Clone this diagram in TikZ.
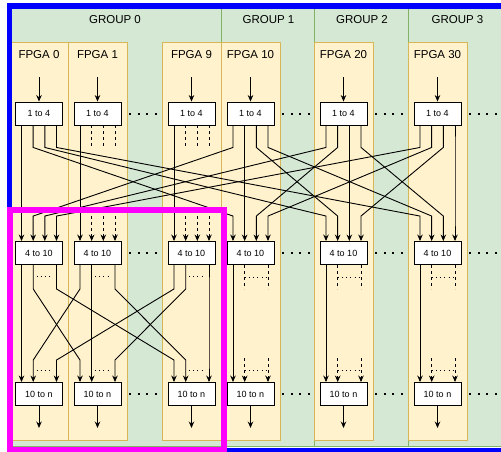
\documentclass[tikz,border=0pt]{standalone}
\usepackage{fontspec}
\setmainfont{Liberation Sans}
\usetikzlibrary{arrows.meta}
\definecolor{grpfill}{HTML}{D5E8D4}
\definecolor{grpline}{HTML}{82B366}
\definecolor{colfill}{HTML}{FFF2CC}
\definecolor{colline}{HTML}{D6B656}
\definecolor{outerframe}{RGB}{0,0,255}
\definecolor{innerframe}{RGB}{255,0,255}
\tikzset{
  blk/.style={draw,fill=white,minimum width=47pt,minimum height=23pt,inner sep=0pt,font=\fontsize{9}{10}\selectfont},
  lbl/.style={inner sep=0pt,font=\fontsize{11.5}{13}\selectfont},
  grp/.style={fill=grpfill,draw=grpline},
  col/.style={fill=colfill,draw=colline},
  stub/.style={dash pattern=on 3pt off 3pt},
  dotrow/.style={dash pattern=on 1pt off 3.2pt},
  gap/.style={line width=2pt,dash pattern=on 2pt off 6.5pt},
}
\begin{document}
\begin{tikzpicture}[x=1pt,y=-1pt,line width=0.9pt,>={Stealth[length=6.5pt,width=5.5pt]}]
  \useasboundingbox (0,0) rectangle (501,451);
  \fill[white] (0,0) rectangle (501,451);
  % groups
  \foreach \g/\xa/\xb in {0/7/221,1/221/314,2/314/408,3/408/505}{
    \draw[grp] (\xa,6) rectangle (\xb,446);
    \node[lbl] (grp\g) at ({(\xa+\xb)/2+1},20) {GROUP \g};
  }
  % fpga columns
  \foreach \f/\x in {0/9.5,1/68,9/162,10/221,20/314,30/408}{
    \draw[col] (\x,42) rectangle ++(59,398);
    \node[lbl] (fpga\f) at (\x+29.5,55) {FPGA \f};
    \node[blk] (split\f) at (\x+29.5,113.5) {1 to 4};
    \node[blk] (bcast\f) at (\x+29.5,253) {4 to 10};
    \node[blk] (merge\f) at (\x+29.5,394) {10 to n};
    \coordinate (src\f) at (\x+29.5,77);
    \coordinate (dst\f) at (\x+29.5,428);
    \draw[->] (src\f) -- (split\f);
    \draw[->] (merge\f) -- (dst\f);
  }
  % 1 to 4 -> 4 to 10
  \foreach \g in {0,...,3}{
    \foreach \k in {0,...,3}{
      \pgfmathsetmacro\fs{int(10*\g)}
      \pgfmathsetmacro\ft{int(10*\k)}
      \pgfmathsetmacro\os{-17.5+11.667*\k}
      \pgfmathsetmacro\ot{-17.5+11.667*\g}
      \draw[->] ([xshift=\os pt]split\fs.south) -- ++(0,22)
        -- ([xshift=\ot pt,yshift=25pt]bcast\ft.north) -- ([xshift=\ot pt]bcast\ft.north);
    }
  }
  \foreach \f in {1,9}{
    \draw[->] ([xshift=-17.5pt]split\f.south) -- ([xshift=-17.5pt]bcast\f.north);
    \foreach \k in {1,2,3}{
      \pgfmathsetmacro\os{-17.5+11.667*\k}
      \draw[stub] ([xshift=\os pt]split\f.south) -- ++(0,22);
      \draw[stub,->] ([xshift=\os pt,yshift=25pt]bcast\f.north) -- ([xshift=\os pt]bcast\f.north);
    }
  }
  % 4 to 10 -> 10 to n
  \foreach \sa/\oa in {0/-17.5,1/-5.8,9/17.5}{
    \foreach \sb/\ob in {0/-17.5,1/-5.8,9/17.5}{
      \draw[->] ([xshift=\ob pt]bcast\sa.south) -- ++(0,24)
        -- ([xshift=\oa pt,yshift=22pt]merge\sb.north) -- ([xshift=\oa pt]merge\sb.north);
    }
    \draw[dotrow] ([xshift=-2.5pt,yshift=-11.5pt]bcast\sa.south) -- ++(16,0);
    \draw[dotrow] ([xshift=-2.5pt,yshift=12pt]merge\sa.north) -- ++(16,0);
  }
  \foreach \f in {10,20,30}{
    \draw[->] ([xshift=-17.5pt]bcast\f.south) -- ([xshift=-17.5pt]merge\f.north);
    \draw[stub] ([xshift=-5.8pt]bcast\f.south) -- ++(0,24);
    \draw[stub] ([xshift=17.5pt]bcast\f.south) -- ++(0,24);
    \draw[dotrow] ([xshift=-5.8pt,yshift=-12pt]bcast\f.south) -- ++(23.3,0);
    \draw[stub,->] ([xshift=-5.8pt,yshift=24pt]merge\f.north) -- ([xshift=-5.8pt]merge\f.north);
    \draw[stub,->] ([xshift=17.5pt,yshift=24pt]merge\f.north) -- ([xshift=17.5pt]merge\f.north);
    \draw[dotrow] ([xshift=-5.8pt,yshift=12pt]merge\f.north) -- ++(23.3,0);
  }
  % gaps between shown fpgas
  \foreach \r in {split,bcast,merge}{
    \foreach \f in {1,10,20,30}
      \draw[gap] ([xshift=8pt]\r\f.east) -- ++(28,0);
  }
  % frames
  \draw[outerframe,line width=5.5pt] (9.5,6) rectangle (503.5,450.5);
  \draw[innerframe,line width=6pt] (9.5,210) rectangle (223.5,450);
\end{tikzpicture}
\end{document}
